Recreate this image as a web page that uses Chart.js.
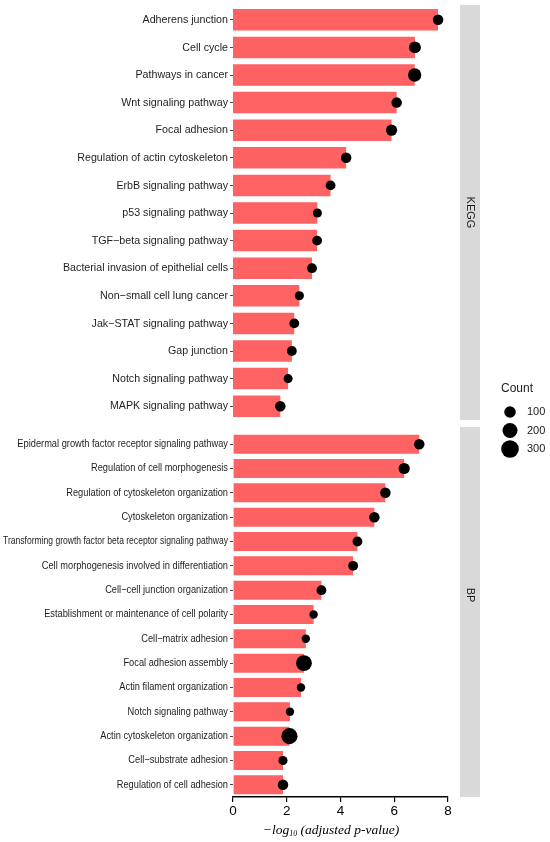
<!DOCTYPE html>
<html>
<head>
<meta charset="utf-8">
<title>KEGG / BP enrichment</title>
<script src="https://cdn.jsdelivr.net/npm/chart.js@4.4.1/dist/chart.umd.min.js"></script>
<style>
  html, body { margin: 0; padding: 0; background: #fff; }
  #wrap { position: relative; width: 550px; height: 842px; }
  #wrap canvas { position: absolute; left: 0; top: 0; }
</style>
</head>
<body>
<div id="wrap">
  <canvas id="keggChart"></canvas>
  <canvas id="bpChart"></canvas>
</div>
<script>
'use strict'
/* data */
const keggTerms = ["Adherens junction", "Cell cycle", "Pathways in cancer", "Wnt signaling pathway",
  "Focal adhesion", "Regulation of actin cytoskeleton", "ErbB signaling pathway", "p53 signaling pathway",
  "TGF\u2212beta signaling pathway", "Bacterial invasion of epithelial cells", "Non\u2212small cell lung cancer",
  "Jak\u2212STAT signaling pathway", "Gap junction", "Notch signaling pathway", "MAPK signaling pathway"];
const keggValues = [7.63, 6.77, 6.76, 6.09, 5.90, 4.21, 3.63, 3.14, 3.13, 2.94, 2.47, 2.28, 2.19, 2.05, 1.76];
const keggCounts = [71, 107, 148, 71, 89, 71, 55, 40, 55, 55, 40, 55, 55, 40, 71];

const bpTerms = ["Epidermal growth factor receptor signaling pathway", "Regulation of cell morphogenesis",
  "Regulation of cytoskeleton organization", "Cytoskeleton organization",
  "Transforming growth factor beta receptor signaling pathway", "Cell morphogenesis involved in differentiation",
  "Cell\u2212cell junction organization", "Establishment or maintenance of cell polarity",
  "Cell\u2212matrix adhesion", "Focal adhesion assembly", "Actin filament organization",
  "Notch signaling pathway", "Actin cytoskeleton organization", "Cell\u2212substrate adhesion",
  "Regulation of cell adhesion"];
const bpValues = [6.93, 6.37, 5.67, 5.26, 4.63, 4.47, 3.29, 3.00, 2.71, 2.64, 2.53, 2.12, 2.10, 1.86, 1.86];
const bpCounts = [71, 89, 71, 71, 55, 55, 55, 26, 26, 228, 26, 26, 241, 40, 71];

const xMin = 0, xMax = 8, xStep = 2;
const legendCounts = [100, 200, 300];

const BAR_COLOR = '#FF6262';
const SANS = '"Liberation Sans", Arial, sans-serif';

// count -> dot radius (area grows with count)
function dotRadius(count) {
  return Math.sqrt(12 + 0.22 * count);
}

// category labels, squeezed sideways like the narrow font of the original
const sideLabels = {
  id: 'sideLabels',
  afterDraw(chart, args, opts) {
    const { ctx } = chart;
    const yScale = chart.scales.y;
    const right = chart.chartArea.left - 5;
    ctx.save();
    ctx.font = opts.size + 'px ' + SANS;
    const sx = opts.fitWidth / ctx.measureText(opts.fitText).width;
    ctx.fillStyle = '#1e1e1e';
    ctx.textAlign = 'right';
    ctx.textBaseline = 'middle';
    chart.data.labels.forEach((lab, i) => {
      const w = ctx.measureText(lab).width;
      const s = Math.min(sx, (right - 3) / w); // keep long labels inside the page
      ctx.save();
      ctx.translate(right, yScale.getPixelForValue(i));
      ctx.scale(s, 1);
      ctx.fillText(lab, 0, 0);
      ctx.restore();
    });
    ctx.restore();
  }
};

// grey facet strip on the right with rotated label
const facetStrip = {
  id: 'facetStrip',
  afterDraw(chart, args, opts) {
    const { ctx, chartArea } = chart;
    const top = chartArea.top - opts.padTop;
    const bottom = chartArea.bottom + opts.padBottom;
    ctx.save();
    ctx.fillStyle = '#D9D9D9';
    ctx.fillRect(460, top, 20, bottom - top);
    ctx.translate(470, opts.textY || (top + bottom) / 2);
    ctx.rotate(Math.PI / 2);
    ctx.fillStyle = '#1a1a1a';
    ctx.font = '11px ' + SANS;
    ctx.textAlign = 'center';
    ctx.textBaseline = 'middle';
    ctx.fillText(opts.label, 0, 0);
    ctx.restore();
  }
};

// size legend "Count"
const countLegend = {
  id: 'countLegend',
  afterDraw(chart) {
    const { ctx } = chart;
    const ys = [412, 430.5, 449];
    ctx.save();
    ctx.fillStyle = '#1a1a1a';
    ctx.font = '12px ' + SANS;
    ctx.textAlign = 'left';
    ctx.textBaseline = 'middle';
    ctx.fillText('Count', 501, 389);
    legendCounts.forEach((c, i) => {
      ctx.fillStyle = '#000';
      ctx.beginPath();
      ctx.arc(510, ys[i], dotRadius(c), 0, Math.PI * 2);
      ctx.fill();
      ctx.fillStyle = '#1a1a1a';
      ctx.font = '11px ' + SANS;
      ctx.fillText(String(c), 527, ys[i]);
    });
    ctx.restore();
  }
};

// x axis title with subscript 10
const axisTitle = {
  id: 'axisTitle',
  afterDraw(chart) {
    const { ctx } = chart;
    const big = 'italic 13.5px "Liberation Serif", "Times New Roman", serif';
    const small = 'italic 8px "Liberation Serif", "Times New Roman", serif';
    const a = '\u2212log', b = '10', c = ' (adjusted p-value)';
    ctx.save();
    ctx.font = big;
    const wa = ctx.measureText(a).width, wc = ctx.measureText(c).width;
    ctx.font = small;
    const wb = ctx.measureText(b).width;
    let x = 331 - (wa + wb + wc) / 2;
    const y = 834;
    ctx.fillStyle = '#000';
    ctx.textBaseline = 'alphabetic';
    ctx.font = big; ctx.fillText(a, x, y); x += wa;
    ctx.font = small; ctx.fillText(b, x, y + 2); x += wb;
    ctx.font = big; ctx.fillText(c, x, y);
    ctx.restore();
  }
};

function makeChart(canvasId, terms, values, counts, padTop, padBottom, showX, strip, labels, extra) {
  const canvas = document.getElementById(canvasId);
  canvas.style.width = '550px';
  canvas.style.height = '842px';
  return new Chart(canvas.getContext('2d'), {
    data: {
      labels: terms,
      datasets: [
        {
          type: 'line', // dots at the bar ends
          indexAxis: 'y',
          data: values,
          showLine: false,
          pointRadius: counts.map(dotRadius),
          pointHoverRadius: counts.map(dotRadius),
          pointBackgroundColor: '#000',
          pointBorderWidth: 0,
          order: 0,
        },
        {
          type: 'bar',
          indexAxis: 'y',
          data: values,
          backgroundColor: BAR_COLOR,
          categoryPercentage: 1,
          barPercentage: 0.78,
          order: 1,
        },
      ],
    },
    options: {
      responsive: false,
      animation: false,
      indexAxis: 'y',
      layout: { padding: { top: padTop, bottom: padBottom, left: 0, right: 102 } },
      plugins: { legend: { display: false }, tooltip: { enabled: false }, facetStrip: strip, sideLabels: labels },
      scales: {
        x: {
          type: 'linear',
          display: showX,
          min: xMin, max: xMax,
          ticks: { stepSize: xStep, color: '#000', font: { size: 13.5, family: SANS }, padding: 1 },
          grid: { drawOnChartArea: false, drawTicks: true, tickLength: 5, color: '#000', lineWidth: 1.2 },
          border: { display: true, color: '#000', width: 1.6 },
          afterFit(scale) { if (showX) scale.height = 45; },
        },
        y: {
          type: 'category',
          ticks: { display: false, autoSkip: false },
          grid: { drawOnChartArea: false, drawTicks: true, offset: false, tickLength: 3, color: '#444', lineWidth: 1 },
          border: { display: false },
          afterFit(scale) { scale.width = 233; },
        },
      },
    },
    plugins: [facetStrip, sideLabels].concat(extra),
  });
}

makeChart('keggChart', keggTerms, keggValues, keggCounts, 6, 422, false,
  { label: 'KEGG', padTop: 1, padBottom: 0 },
  { size: 11.5, fitText: 'Bacterial invasion of epithelial cells', fitWidth: 165 },
  [countLegend]);

makeChart('bpChart', bpTerms, bpValues, bpCounts, 432, 0, true,
  { label: 'BP', padTop: 5, padBottom: 0, textY: 595 },
  { size: 10.5, fitText: 'Regulation of cell morphogenesis', fitWidth: 137 },
  [axisTitle]);
</script>
</body>
</html>
